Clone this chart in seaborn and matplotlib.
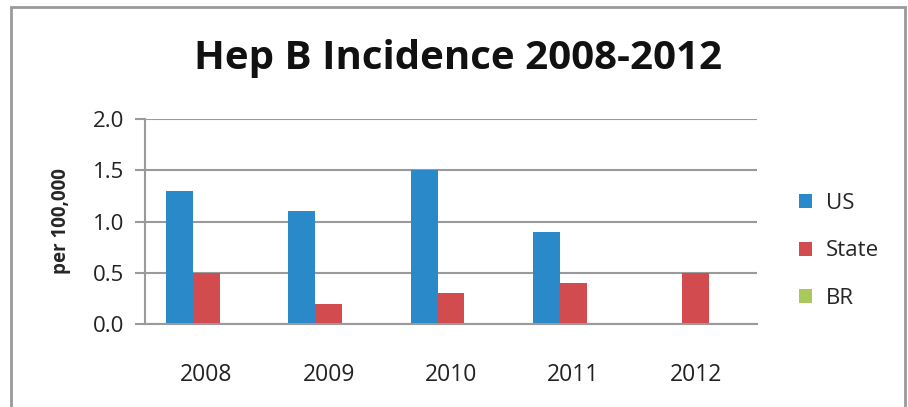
import numpy as np
import pandas as pd
import matplotlib
matplotlib.use("Agg")
import matplotlib.pyplot as plt
import seaborn as sns
from matplotlib.patches import Patch, Rectangle

# chart values
years = ["2008", "2009", "2010", "2011", "2012"]
us = [1.3, 1.1, 1.5, 0.9, np.nan]
state = [0.5, 0.2, 0.3, 0.4, 0.5]
br = [np.nan, np.nan, np.nan, np.nan, np.nan]
series = ["US", "State", "BR"]
colors = ["#2A8AC9", "#D24B4F", "#A9C95C"]

df = pd.DataFrame({
    "year": years * 3,
    "value": us + state + br,
    "series": ["US"] * 5 + ["State"] * 5 + ["BR"] * 5,
})

sns.set_style("white")
plt.rcParams["font.family"] = ["Open Sans", "DejaVu Sans"]

fig = plt.figure(figsize=(9.08, 4.07), dpi=100)
ax = fig.add_axes([145 / 908, 1 - 324 / 407, (757 - 145) / 908, (324 - 119) / 407])

sns.barplot(data=df, x="year", y="value", hue="series", hue_order=series,
            order=years, palette=colors, width=0.66, saturation=1,
            dodge=True, ax=ax, legend=False, errorbar=None,
            edgecolor="none", linewidth=0)

grid = "#9A9A9A"
ax.set_ylim(0, 2.0)
ax.set_yticks([0, 0.5, 1.0, 1.5, 2.0])
ax.set_yticklabels([f"{v:.1f}" for v in [0, 0.5, 1.0, 1.5, 2.0]], fontsize=16, color="#222222")
ax.yaxis.grid(True, color=grid, linewidth=1.5)
ax.set_axisbelow(True)
ax.tick_params(axis="y", length=7, width=1.5, color=grid, direction="out", pad=8, left=True)
ax.tick_params(axis="x", length=0, labelsize=16.5, labelcolor="#222222", pad=28)
for s in ["top", "right"]:
    ax.spines[s].set_visible(False)
ax.spines["left"].set_color(grid)
ax.spines["left"].set_linewidth(1.5)
ax.spines["bottom"].set_color(grid)
ax.spines["bottom"].set_linewidth(1.5)
ax.set_xlabel("")
ax.set_ylabel("per 100,000", fontsize=13.5, fontweight="bold", labelpad=16)

fig.text(458 / 908, 1 - 59 / 407, "Hep B Incidence 2008-2012", ha="center", va="center",
         fontsize=29, fontweight="bold", color="#111111")

handles = [Patch(facecolor=c, edgecolor="none", label=n) for n, c in zip(series, colors)]
fig.legend(handles=handles, loc="center left", bbox_to_anchor=(799 / 908, 1 - 251 / 407),
           frameon=False, fontsize=16, handlelength=0.6, handleheight=0.6,
           handletextpad=0.6, labelspacing=1.2, borderaxespad=0, borderpad=0)

# outer chart border
fig.add_artist(Rectangle((11 / 908, -0.05), (905 - 11) / 908, 1.05 - 7 / 407,
                         transform=fig.transFigure, fill=False,
                         edgecolor="#999999", linewidth=2))

fig.savefig("out.png", dpi=100)
